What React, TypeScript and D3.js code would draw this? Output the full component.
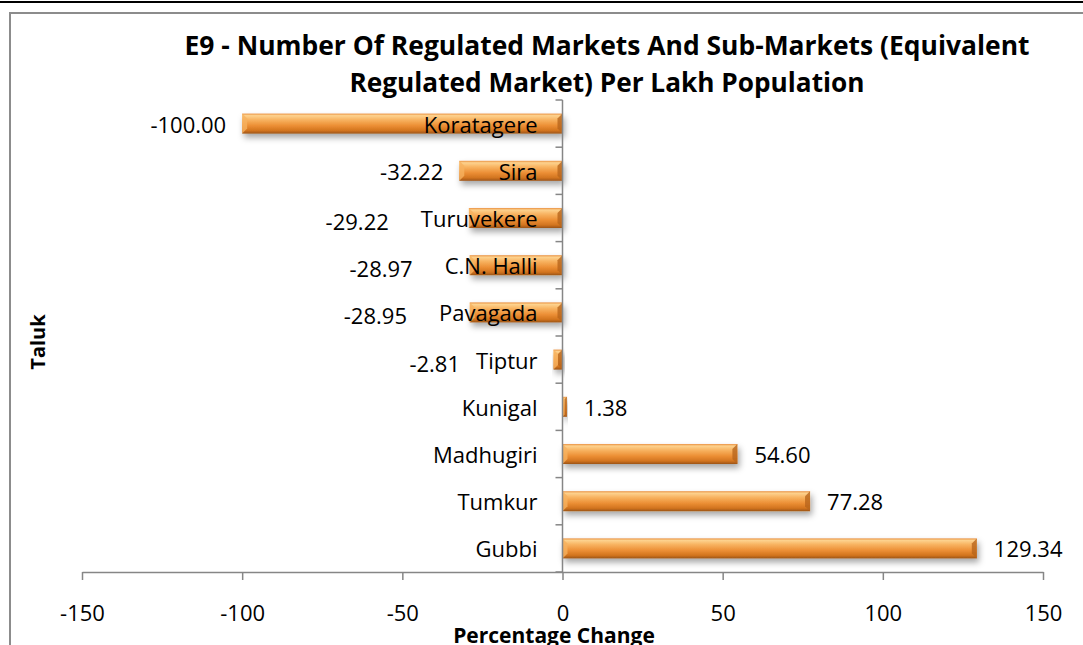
import { useEffect, useRef } from 'react';
import * as d3 from 'd3';

const categories = ["Koratagere", "Sira", "Turuvekere", "C.N. Halli", "Pavagada", "Tiptur", "Kunigal", "Madhugiri", "Tumkur", "Gubbi"];
const values = [-100.0, -32.22, -29.22, -28.97, -28.95, -2.81, 1.38, 54.6, 77.28, 129.34];
const xTicks = [-150, -100, -50, 0, 50, 100, 150];
const titleLines = ["E9 - Number Of Regulated Markets And Sub-Markets (Equivalent", "Regulated Market) Per Lakh Population"];

const FONT = "'Open Sans', Lato, sans-serif";

export default function App() {
  const ref = useRef<SVGSVGElement>(null);

  useEffect(() => {
    const svg = d3.select(ref.current);
    svg.selectAll("*").remove();

    const W = 1083, H = 645;
    const left = 82, right = 1043, top = 100, bottom = 572;

    const defs = svg.append("defs");
    const grad = defs.append("linearGradient").attr("id", "barGrad")
      .attr("x1", 0).attr("y1", 0).attr("x2", 0).attr("y2", 1);
    [[0, "#E99140"], [0.1, "#FDD28E"], [0.3, "#F8B462"], [0.6, "#EC8F35"], [0.85, "#D2741F"], [1, "#9C5417"]]
      .forEach(([o, c]) => grad.append("stop").attr("offset", o as number).attr("stop-color", c as string));
    const shadow = defs.append("filter").attr("id", "shadow")
      .attr("x", "-10%").attr("y", "-50%").attr("width", "130%").attr("height", "250%");
    shadow.append("feDropShadow").attr("dx", 2).attr("dy", 4).attr("stdDeviation", 3)
      .attr("flood-color", "#000").attr("flood-opacity", 0.35);

    svg.append("rect").attr("width", W).attr("height", H).attr("fill", "#fff");
    // outer frame
    svg.append("line").attr("x1", 0).attr("x2", W).attr("y1", 2).attr("y2", 2)
      .attr("stroke", "#000").attr("stroke-width", 2);
    svg.append("rect").attr("x", 10).attr("y", 13).attr("width", W + 20).attr("height", H + 20)
      .attr("fill", "none").attr("stroke", "#8c8c8c").attr("stroke-width", 2);

    const x = d3.scaleLinear().domain([-150, 150]).range([left, right]);
    const y = d3.scaleBand<string>().domain(categories).range([top, bottom])
      .paddingInner(0.576).paddingOuter(0.288);
    const step = y.step();

    // title
    titleLines.forEach((t, i) => {
      svg.append("text").attr("x", 607).attr("y", 45 + i * 37)
        .attr("text-anchor", "middle").attr("dominant-baseline", "central")
        .attr("font-family", FONT).attr("font-weight", 700).attr("font-size", 26)
        .attr("textLength", i === 0 ? 845 : 515).attr("lengthAdjust", "spacingAndGlyphs")
        .attr("fill", "#000").text(t);
    });

    const axisColor = "#868686";
    // x axis
    const gx = svg.append("g").attr("transform", `translate(0,${bottom})`)
      .call(d3.axisBottom(x).tickValues(xTicks).tickFormat((d) => String(d))
        .tickSize(8).tickSizeOuter(0).tickPadding(25));
    gx.selectAll(".domain, .tick line").attr("stroke", axisColor).attr("stroke-width", 1.5);
    gx.selectAll("text").attr("font-family", FONT).attr("font-size", 22).attr("fill", "#000");

    // bars
    const bars = svg.append("g");
    categories.forEach((c, i) => {
      const v = values[i];
      const x0 = Math.min(x(0), x(v));
      const w = Math.abs(x(v) - x(0));
      const yy = y(c)!;
      const bh = y.bandwidth();
      const g = bars.append("g").attr("filter", "url(#shadow)");
      g.append("rect").attr("x", x0).attr("y", yy).attr("width", w).attr("height", bh)
        .attr("fill", "url(#barGrad)");
      const bev = Math.min(5, w / 2);
      // bevel ends
      g.append("path")
        .attr("d", `M${x0},${yy}L${x0 + bev},${yy + bev}L${x0 + bev},${yy + bh - bev}L${x0},${yy + bh}Z`)
        .attr("fill", "#F6B25F").attr("opacity", 0.8);
      g.append("path")
        .attr("d", `M${x0 + w},${yy}L${x0 + w - bev},${yy + bev}L${x0 + w - bev},${yy + bh - bev}L${x0 + w},${yy + bh}Z`)
        .attr("fill", "#B8651D").attr("opacity", 0.8);
    });

    // y axis
    const ay = svg.append("g");
    ay.append("line").attr("x1", x(0)).attr("x2", x(0)).attr("y1", top).attr("y2", bottom)
      .attr("stroke", axisColor).attr("stroke-width", 1.5);
    d3.range(categories.length + 1).forEach((i) => {
      ay.append("line").attr("x1", x(0) - 7).attr("x2", x(0))
        .attr("y1", top + i * step).attr("y2", top + i * step)
        .attr("stroke", axisColor).attr("stroke-width", 1.5);
    });

    // category labels
    const catLabels = svg.append("g");
    const catStart: number[] = [];
    categories.forEach((c) => {
      const t = catLabels.append("text").attr("x", x(0) - 25).attr("y", y(c)! + y.bandwidth() / 2)
        .attr("text-anchor", "end").attr("dominant-baseline", "central")
        .attr("font-family", FONT).attr("font-size", 22).attr("fill", "#000").text(c);
      const len = (t.node() as SVGTextElement).getComputedTextLength();
      catStart.push(x(0) - 25 - len);
    });

    // value labels
    categories.forEach((c, i) => {
      const v = values[i];
      const cy = y(c)! + y.bandwidth() / 2;
      if (v >= 0) {
        svg.append("text").attr("x", x(v) + 17).attr("y", cy)
          .attr("dominant-baseline", "central")
          .attr("font-family", FONT).attr("font-size", 22).attr("fill", "#000").text(v.toFixed(2));
      } else {
        let ex = x(v) - 16;
        if (ex > catStart[i] - 16) ex = catStart[i] - (v < -10 ? 32 : 16);
        svg.append("text").attr("x", ex).attr("y", cy + (ex < x(v) - 20 ? 3 : 0))
          .attr("text-anchor", "end").attr("dominant-baseline", "central")
          .attr("font-family", FONT).attr("font-size", 22).attr("fill", "#000").text(v.toFixed(2));
      }
    });

    // axis titles
    svg.append("text").attr("x", 554).attr("y", 635).attr("text-anchor", "middle")
      .attr("dominant-baseline", "central").attr("font-family", FONT).attr("font-weight", 700)
      .attr("font-size", 21).attr("fill", "#000").text("Percentage Change");
    svg.append("text").attr("transform", "translate(37,342) rotate(-90)").attr("text-anchor", "middle")
      .attr("dominant-baseline", "central").attr("font-family", FONT).attr("font-weight", 700)
      .attr("font-size", 20).attr("fill", "#000").text("Taluk");
  }, []);

  return (
    <svg ref={ref} width={1083} height={645}
      style={{ position: 'absolute', left: 0, top: 0, display: 'block' }} />
  );
}
